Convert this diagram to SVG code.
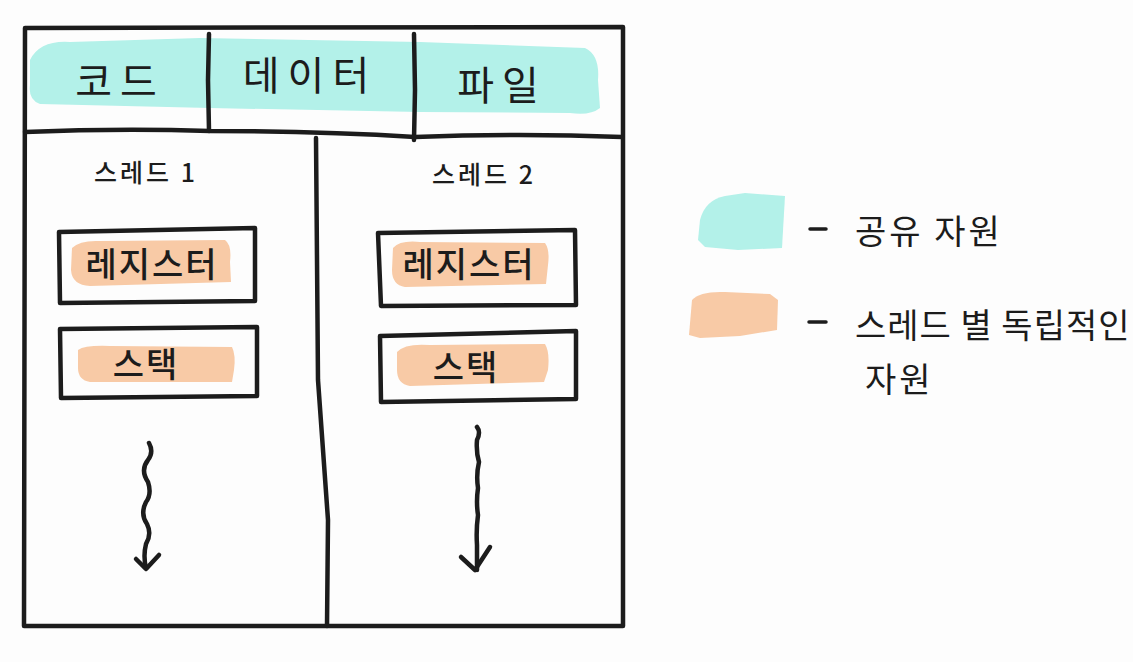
<svg xmlns="http://www.w3.org/2000/svg" width="1133" height="662" viewBox="0 0 1133 662">
<style>
.ln{fill:none;stroke:#1c1c1c;stroke-width:4.5;stroke-linecap:round;stroke-linejoin:round}
.box{fill:none;stroke:#1c1c1c;stroke-width:4.5;stroke-linejoin:round}
.teal{fill:#b3f1e9}
.org{fill:#f8caa6}
.t{font-family:"Noto Sans CJK KR","Noto Sans",sans-serif;fill:#1c1c1c;text-anchor:middle}
.h{font-size:40px;letter-spacing:8px}
.lb{font-size:25px;letter-spacing:3px;font-weight:500}
.n{font-size:34px;font-weight:500;letter-spacing:2px}
.lg{font-size:34px;text-anchor:start;letter-spacing:3px}
</style>
<rect width="1133" height="662" fill="#fdfdfd"/>
<g id="header">
<path class="teal" d="M30 60 Q40 40 70 42 L200 38 L420 42 L585 48 Q600 55 598 80 L600 108 Q590 116 570 113 L420 112 L210 108 L40 104 Q28 100 30 85 Z"/>
<text class="t h" x="120" y="96">코드</text>
<text class="t h" x="310" y="90">데이터</text>
<text class="t h" x="502" y="100">파일</text>
<path class="ln" d="M209 34 L208 80 L209 131"/>
<path class="ln" d="M414 34 L415 90 L414 140"/>
</g>
<g id="frame">
<path class="ln" d="M25 28 L623 27 L623 626 L24 626 Z"/>
<path class="ln" d="M25 132 Q120 128 210 131 Q320 131 415 137 Q520 133 622 137"/>
<path class="ln" d="M316 138 L318 380 L328 520 L327 626"/>
</g>
<g id="thread1">
<text class="t lb" x="146" y="182">스레드 1</text>
<g id="t1-register">
<path class="box" d="M59 232 L255 228 L255 301 L60 303 Z"/>
<path class="org" d="M72 248 Q80 240 100 241 L225 240 Q232 245 230 262 L231 282 L90 286 Q72 285 71 270 Z"/>
<text class="t n" x="152" y="277">레지스터</text>
</g>
<g id="t1-stack">
<path class="box" d="M60 329 L257 327 L257 396 L61 398 Z"/>
<path class="org" d="M78 350 Q85 345 110 346 L232 347 Q236 355 234 370 L232 382 L90 382 Q78 380 78 368 Z"/>
<text class="t n" x="146" y="377">스택</text>
</g>
</g>
<g id="thread2">
<text class="t lb" x="484" y="184">스레드 2</text>
<g id="t2-register">
<path class="box" d="M378 233 L575 230 L576 305 L381 306 Z"/>
<path class="org" d="M393 248 Q400 240 420 242 L545 243 Q550 250 548 265 L546 284 L405 287 Q392 285 392 270 Z"/>
<text class="t n" x="469" y="277">레지스터</text>
</g>
<g id="t2-stack">
<path class="box" d="M380 336 L576 331 L576 399 L381 402 Z"/>
<path class="org" d="M397 352 Q405 343 430 345 L545 344 Q550 352 548 370 L544 382 L410 386 Q397 384 397 370 Z"/>
<text class="t n" x="466" y="380">스택</text>
</g>
</g>
<g id="connectors">
<path class="ln" d="M149 443 Q154 452 148 460 Q140 470 148 482 Q152 494 146 502 Q140 514 147 524 Q152 534 146 544 Q143 556 146 568"/>
<path class="ln" d="M136 559 L146 569 L159 555"/>
<path class="ln" d="M477 427 Q481 432 477 440 Q476 452 479 462 Q476 475 478 488 Q476 502 478 515 Q476 530 477 545 L477 570"/>
<path class="ln" d="M461 557 L475 570 L490 547"/>
</g>
<g id="legend">
<path class="teal" d="M700 220 Q705 200 725 196 L745 193 L785 196 L782 248 L738 250 L705 247 L698 240 Z"/>
<path class="ln" d="M810 229 L826 229" style="stroke-width:3.5"/>
<text class="t lg" x="855" y="244">공유 자원</text>
<path class="org" d="M692 300 Q700 291 725 292 L770 294 L778 300 L777 330 L740 336 L700 338 L689 335 Z"/>
<path class="ln" d="M809 322 L826 322" style="stroke-width:3.5"/>
<text class="t lg" x="855" y="338" style="letter-spacing:1px">스레드 별 독립적인</text>
<text class="t lg" x="865" y="392">자원</text>
</g>
</svg>
